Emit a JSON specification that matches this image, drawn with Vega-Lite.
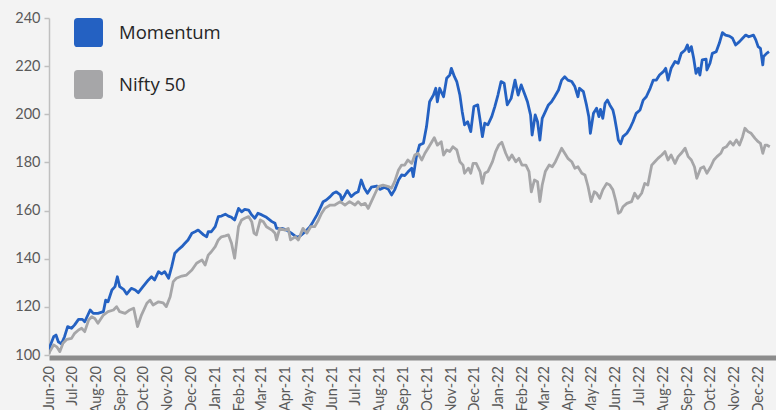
{
  "$schema": "https://vega.github.io/schema/vega-lite/v6.json",
  "width": 727,
  "height": 337,
  "autosize": "none",
  "padding": {"left": 49, "top": 18, "right": 0, "bottom": 55},
  "background": "#f3f3f3",
  "config": {"view": {"stroke": null}},
  "data": {"values": [
    {"d":"2020-06-01","s":"Momentum","v":101.5},
    {"d":"2020-06-02","s":"Momentum","v":103.4},
    {"d":"2020-06-07","s":"Momentum","v":107.6},
    {"d":"2020-06-10","s":"Momentum","v":108.3},
    {"d":"2020-06-13","s":"Momentum","v":105.5},
    {"d":"2020-06-17","s":"Momentum","v":104.6},
    {"d":"2020-06-21","s":"Momentum","v":107.6},
    {"d":"2020-06-25","s":"Momentum","v":111.8},
    {"d":"2020-06-30","s":"Momentum","v":111.1},
    {"d":"2020-07-04","s":"Momentum","v":112.5},
    {"d":"2020-07-09","s":"Momentum","v":114.8},
    {"d":"2020-07-14","s":"Momentum","v":114.8},
    {"d":"2020-07-17","s":"Momentum","v":113.8},
    {"d":"2020-07-24","s":"Momentum","v":118.7},
    {"d":"2020-07-28","s":"Momentum","v":117.3},
    {"d":"2020-08-03","s":"Momentum","v":117.3},
    {"d":"2020-08-10","s":"Momentum","v":118.0},
    {"d":"2020-08-13","s":"Momentum","v":122.8},
    {"d":"2020-08-16","s":"Momentum","v":122.1},
    {"d":"2020-08-21","s":"Momentum","v":127.0},
    {"d":"2020-08-25","s":"Momentum","v":128.4},
    {"d":"2020-08-28","s":"Momentum","v":132.5},
    {"d":"2020-08-31","s":"Momentum","v":128.4},
    {"d":"2020-09-05","s":"Momentum","v":127.3},
    {"d":"2020-09-09","s":"Momentum","v":125.3},
    {"d":"2020-09-15","s":"Momentum","v":127.7},
    {"d":"2020-09-20","s":"Momentum","v":127.0},
    {"d":"2020-09-24","s":"Momentum","v":125.9},
    {"d":"2020-09-30","s":"Momentum","v":128.4},
    {"d":"2020-10-07","s":"Momentum","v":131.2},
    {"d":"2020-10-11","s":"Momentum","v":132.5},
    {"d":"2020-10-15","s":"Momentum","v":131.2},
    {"d":"2020-10-20","s":"Momentum","v":134.6},
    {"d":"2020-10-24","s":"Momentum","v":133.7},
    {"d":"2020-10-28","s":"Momentum","v":134.6},
    {"d":"2020-11-02","s":"Momentum","v":131.9},
    {"d":"2020-11-06","s":"Momentum","v":136.7},
    {"d":"2020-11-10","s":"Momentum","v":142.3},
    {"d":"2020-11-14","s":"Momentum","v":143.6},
    {"d":"2020-11-19","s":"Momentum","v":145.0},
    {"d":"2020-11-23","s":"Momentum","v":146.4},
    {"d":"2020-11-27","s":"Momentum","v":147.8},
    {"d":"2020-12-02","s":"Momentum","v":150.6},
    {"d":"2020-12-06","s":"Momentum","v":151.2},
    {"d":"2020-12-10","s":"Momentum","v":151.9},
    {"d":"2020-12-17","s":"Momentum","v":149.9},
    {"d":"2020-12-21","s":"Momentum","v":149.1},
    {"d":"2020-12-23","s":"Momentum","v":151.2},
    {"d":"2020-12-27","s":"Momentum","v":151.2},
    {"d":"2021-01-01","s":"Momentum","v":153.3},
    {"d":"2021-01-05","s":"Momentum","v":157.5},
    {"d":"2021-01-09","s":"Momentum","v":157.7},
    {"d":"2021-01-14","s":"Momentum","v":158.5},
    {"d":"2021-01-18","s":"Momentum","v":157.7},
    {"d":"2021-01-22","s":"Momentum","v":157.2},
    {"d":"2021-01-26","s":"Momentum","v":156.1},
    {"d":"2021-01-31","s":"Momentum","v":160.9},
    {"d":"2021-02-04","s":"Momentum","v":159.5},
    {"d":"2021-02-08","s":"Momentum","v":160.5},
    {"d":"2021-02-13","s":"Momentum","v":160.2},
    {"d":"2021-02-17","s":"Momentum","v":158.2},
    {"d":"2021-02-21","s":"Momentum","v":156.8},
    {"d":"2021-02-25","s":"Momentum","v":158.9},
    {"d":"2021-03-02","s":"Momentum","v":158.2},
    {"d":"2021-03-08","s":"Momentum","v":157.2},
    {"d":"2021-03-15","s":"Momentum","v":155.4},
    {"d":"2021-03-19","s":"Momentum","v":154.7},
    {"d":"2021-03-21","s":"Momentum","v":152.6},
    {"d":"2021-03-28","s":"Momentum","v":152.6},
    {"d":"2021-04-03","s":"Momentum","v":151.9},
    {"d":"2021-04-09","s":"Momentum","v":150.6},
    {"d":"2021-04-16","s":"Momentum","v":148.9},
    {"d":"2021-04-20","s":"Momentum","v":149.4},
    {"d":"2021-04-27","s":"Momentum","v":151.2},
    {"d":"2021-05-03","s":"Momentum","v":153.3},
    {"d":"2021-05-07","s":"Momentum","v":155.4},
    {"d":"2021-05-12","s":"Momentum","v":158.2},
    {"d":"2021-05-16","s":"Momentum","v":160.9},
    {"d":"2021-05-20","s":"Momentum","v":163.7},
    {"d":"2021-05-24","s":"Momentum","v":164.4},
    {"d":"2021-05-29","s":"Momentum","v":165.8},
    {"d":"2021-06-02","s":"Momentum","v":167.2},
    {"d":"2021-06-06","s":"Momentum","v":167.8},
    {"d":"2021-06-11","s":"Momentum","v":166.5},
    {"d":"2021-06-13","s":"Momentum","v":164.4},
    {"d":"2021-06-17","s":"Momentum","v":166.5},
    {"d":"2021-06-20","s":"Momentum","v":168.3},
    {"d":"2021-06-25","s":"Momentum","v":165.8},
    {"d":"2021-06-30","s":"Momentum","v":167.2},
    {"d":"2021-07-04","s":"Momentum","v":167.8},
    {"d":"2021-07-08","s":"Momentum","v":172.7},
    {"d":"2021-07-12","s":"Momentum","v":169.3},
    {"d":"2021-07-16","s":"Momentum","v":167.2},
    {"d":"2021-07-21","s":"Momentum","v":169.7},
    {"d":"2021-07-28","s":"Momentum","v":170.2},
    {"d":"2021-08-01","s":"Momentum","v":168.8},
    {"d":"2021-08-07","s":"Momentum","v":169.7},
    {"d":"2021-08-12","s":"Momentum","v":168.8},
    {"d":"2021-08-16","s":"Momentum","v":166.5},
    {"d":"2021-08-20","s":"Momentum","v":168.6},
    {"d":"2021-08-25","s":"Momentum","v":172.7},
    {"d":"2021-08-29","s":"Momentum","v":174.8},
    {"d":"2021-09-02","s":"Momentum","v":174.5},
    {"d":"2021-09-06","s":"Momentum","v":176.0},
    {"d":"2021-09-11","s":"Momentum","v":177.6},
    {"d":"2021-09-13","s":"Momentum","v":174.1},
    {"d":"2021-09-17","s":"Momentum","v":182.4},
    {"d":"2021-09-21","s":"Momentum","v":187.2},
    {"d":"2021-09-26","s":"Momentum","v":188.0},
    {"d":"2021-09-30","s":"Momentum","v":194.8},
    {"d":"2021-10-04","s":"Momentum","v":205.2},
    {"d":"2021-10-09","s":"Momentum","v":208.0},
    {"d":"2021-10-12","s":"Momentum","v":210.8},
    {"d":"2021-10-14","s":"Momentum","v":205.2},
    {"d":"2021-10-17","s":"Momentum","v":210.8},
    {"d":"2021-10-22","s":"Momentum","v":207.3},
    {"d":"2021-10-26","s":"Momentum","v":215.0},
    {"d":"2021-10-30","s":"Momentum","v":216.3},
    {"d":"2021-11-01","s":"Momentum","v":219.1},
    {"d":"2021-11-05","s":"Momentum","v":215.6},
    {"d":"2021-11-08","s":"Momentum","v":213.6},
    {"d":"2021-11-12","s":"Momentum","v":208.0},
    {"d":"2021-11-15","s":"Momentum","v":201.1},
    {"d":"2021-11-18","s":"Momentum","v":195.6},
    {"d":"2021-11-22","s":"Momentum","v":196.9},
    {"d":"2021-11-26","s":"Momentum","v":192.8},
    {"d":"2021-11-30","s":"Momentum","v":203.2},
    {"d":"2021-12-05","s":"Momentum","v":203.9},
    {"d":"2021-12-08","s":"Momentum","v":197.6},
    {"d":"2021-12-11","s":"Momentum","v":190.7},
    {"d":"2021-12-14","s":"Momentum","v":196.3},
    {"d":"2021-12-18","s":"Momentum","v":195.6},
    {"d":"2021-12-23","s":"Momentum","v":199.0},
    {"d":"2021-12-27","s":"Momentum","v":203.2},
    {"d":"2021-12-31","s":"Momentum","v":208.0},
    {"d":"2022-01-04","s":"Momentum","v":213.6},
    {"d":"2022-01-08","s":"Momentum","v":212.9},
    {"d":"2022-01-12","s":"Momentum","v":203.9},
    {"d":"2022-01-17","s":"Momentum","v":206.6},
    {"d":"2022-01-22","s":"Momentum","v":214.2},
    {"d":"2022-01-26","s":"Momentum","v":208.0},
    {"d":"2022-01-30","s":"Momentum","v":212.2},
    {"d":"2022-02-03","s":"Momentum","v":208.7},
    {"d":"2022-02-07","s":"Momentum","v":205.2},
    {"d":"2022-02-11","s":"Momentum","v":199.7},
    {"d":"2022-02-13","s":"Momentum","v":191.4},
    {"d":"2022-02-17","s":"Momentum","v":199.7},
    {"d":"2022-02-20","s":"Momentum","v":196.9},
    {"d":"2022-02-23","s":"Momentum","v":189.3},
    {"d":"2022-02-26","s":"Momentum","v":198.3},
    {"d":"2022-03-01","s":"Momentum","v":200.4},
    {"d":"2022-03-06","s":"Momentum","v":203.9},
    {"d":"2022-03-10","s":"Momentum","v":205.2},
    {"d":"2022-03-14","s":"Momentum","v":207.3},
    {"d":"2022-03-19","s":"Momentum","v":210.1},
    {"d":"2022-03-23","s":"Momentum","v":214.2},
    {"d":"2022-03-27","s":"Momentum","v":215.6},
    {"d":"2022-03-31","s":"Momentum","v":214.2},
    {"d":"2022-04-05","s":"Momentum","v":213.6},
    {"d":"2022-04-09","s":"Momentum","v":211.5},
    {"d":"2022-04-13","s":"Momentum","v":207.3},
    {"d":"2022-04-15","s":"Momentum","v":210.8},
    {"d":"2022-04-20","s":"Momentum","v":209.4},
    {"d":"2022-04-24","s":"Momentum","v":203.9},
    {"d":"2022-04-27","s":"Momentum","v":199.0},
    {"d":"2022-04-29","s":"Momentum","v":192.1},
    {"d":"2022-05-03","s":"Momentum","v":200.4},
    {"d":"2022-05-07","s":"Momentum","v":202.5},
    {"d":"2022-05-10","s":"Momentum","v":199.0},
    {"d":"2022-05-12","s":"Momentum","v":202.0},
    {"d":"2022-05-15","s":"Momentum","v":198.3},
    {"d":"2022-05-18","s":"Momentum","v":204.6},
    {"d":"2022-05-21","s":"Momentum","v":205.9},
    {"d":"2022-05-24","s":"Momentum","v":203.9},
    {"d":"2022-05-28","s":"Momentum","v":201.8},
    {"d":"2022-05-30","s":"Momentum","v":199.0},
    {"d":"2022-06-02","s":"Momentum","v":193.5},
    {"d":"2022-06-04","s":"Momentum","v":189.3},
    {"d":"2022-06-07","s":"Momentum","v":187.7},
    {"d":"2022-06-10","s":"Momentum","v":190.7},
    {"d":"2022-06-15","s":"Momentum","v":192.1},
    {"d":"2022-06-19","s":"Momentum","v":194.2},
    {"d":"2022-06-23","s":"Momentum","v":197.0},
    {"d":"2022-06-27","s":"Momentum","v":200.4},
    {"d":"2022-07-02","s":"Momentum","v":201.8},
    {"d":"2022-07-06","s":"Momentum","v":205.9},
    {"d":"2022-07-10","s":"Momentum","v":207.3},
    {"d":"2022-07-15","s":"Momentum","v":210.8},
    {"d":"2022-07-19","s":"Momentum","v":214.2},
    {"d":"2022-07-23","s":"Momentum","v":214.2},
    {"d":"2022-07-27","s":"Momentum","v":216.3},
    {"d":"2022-08-01","s":"Momentum","v":217.7},
    {"d":"2022-08-04","s":"Momentum","v":219.1},
    {"d":"2022-08-07","s":"Momentum","v":214.2},
    {"d":"2022-08-11","s":"Momentum","v":219.1},
    {"d":"2022-08-16","s":"Momentum","v":221.9},
    {"d":"2022-08-20","s":"Momentum","v":221.2},
    {"d":"2022-08-24","s":"Momentum","v":225.3},
    {"d":"2022-08-29","s":"Momentum","v":226.7},
    {"d":"2022-09-01","s":"Momentum","v":228.8},
    {"d":"2022-09-03","s":"Momentum","v":226.0},
    {"d":"2022-09-06","s":"Momentum","v":228.1},
    {"d":"2022-09-09","s":"Momentum","v":223.3},
    {"d":"2022-09-12","s":"Momentum","v":217.0},
    {"d":"2022-09-15","s":"Momentum","v":219.1},
    {"d":"2022-09-17","s":"Momentum","v":216.3},
    {"d":"2022-09-20","s":"Momentum","v":222.6},
    {"d":"2022-09-25","s":"Momentum","v":222.9},
    {"d":"2022-09-26","s":"Momentum","v":218.4},
    {"d":"2022-09-30","s":"Momentum","v":221.2},
    {"d":"2022-10-03","s":"Momentum","v":225.3},
    {"d":"2022-10-08","s":"Momentum","v":226.0},
    {"d":"2022-10-12","s":"Momentum","v":229.5},
    {"d":"2022-10-16","s":"Momentum","v":233.9},
    {"d":"2022-10-20","s":"Momentum","v":232.9},
    {"d":"2022-10-25","s":"Momentum","v":232.5},
    {"d":"2022-10-29","s":"Momentum","v":231.6},
    {"d":"2022-11-02","s":"Momentum","v":228.8},
    {"d":"2022-11-07","s":"Momentum","v":230.2},
    {"d":"2022-11-11","s":"Momentum","v":231.6},
    {"d":"2022-11-15","s":"Momentum","v":232.9},
    {"d":"2022-11-19","s":"Momentum","v":232.2},
    {"d":"2022-11-25","s":"Momentum","v":232.9},
    {"d":"2022-11-28","s":"Momentum","v":230.9},
    {"d":"2022-12-01","s":"Momentum","v":228.1},
    {"d":"2022-12-04","s":"Momentum","v":227.4},
    {"d":"2022-12-07","s":"Momentum","v":220.5},
    {"d":"2022-12-08","s":"Momentum","v":224.0},
    {"d":"2022-12-12","s":"Momentum","v":225.3},
    {"d":"2022-12-15","s":"Momentum","v":226.0},
    {"d":"2020-06-01","s":"Nifty 50","v":100.5},
    {"d":"2020-06-02","s":"Nifty 50","v":101.4},
    {"d":"2020-06-07","s":"Nifty 50","v":104.2},
    {"d":"2020-06-11","s":"Nifty 50","v":103.4},
    {"d":"2020-06-15","s":"Nifty 50","v":101.4},
    {"d":"2020-06-19","s":"Nifty 50","v":104.9},
    {"d":"2020-06-24","s":"Nifty 50","v":106.5},
    {"d":"2020-06-30","s":"Nifty 50","v":106.9},
    {"d":"2020-07-04","s":"Nifty 50","v":109.0},
    {"d":"2020-07-09","s":"Nifty 50","v":110.4},
    {"d":"2020-07-13","s":"Nifty 50","v":111.1},
    {"d":"2020-07-17","s":"Nifty 50","v":109.7},
    {"d":"2020-07-22","s":"Nifty 50","v":114.5},
    {"d":"2020-07-26","s":"Nifty 50","v":115.9},
    {"d":"2020-07-30","s":"Nifty 50","v":115.2},
    {"d":"2020-08-03","s":"Nifty 50","v":113.2},
    {"d":"2020-08-10","s":"Nifty 50","v":116.6},
    {"d":"2020-08-16","s":"Nifty 50","v":118.0},
    {"d":"2020-08-23","s":"Nifty 50","v":118.7},
    {"d":"2020-08-27","s":"Nifty 50","v":120.1},
    {"d":"2020-08-31","s":"Nifty 50","v":118.0},
    {"d":"2020-09-07","s":"Nifty 50","v":117.3},
    {"d":"2020-09-13","s":"Nifty 50","v":118.7},
    {"d":"2020-09-18","s":"Nifty 50","v":119.4},
    {"d":"2020-09-23","s":"Nifty 50","v":111.8},
    {"d":"2020-09-28","s":"Nifty 50","v":116.6},
    {"d":"2020-10-05","s":"Nifty 50","v":121.5},
    {"d":"2020-10-09","s":"Nifty 50","v":122.8},
    {"d":"2020-10-13","s":"Nifty 50","v":120.8},
    {"d":"2020-10-20","s":"Nifty 50","v":122.1},
    {"d":"2020-10-26","s":"Nifty 50","v":121.7},
    {"d":"2020-10-30","s":"Nifty 50","v":120.1},
    {"d":"2020-11-04","s":"Nifty 50","v":124.2},
    {"d":"2020-11-08","s":"Nifty 50","v":130.5},
    {"d":"2020-11-12","s":"Nifty 50","v":131.9},
    {"d":"2020-11-19","s":"Nifty 50","v":132.8},
    {"d":"2020-11-25","s":"Nifty 50","v":133.2},
    {"d":"2020-12-02","s":"Nifty 50","v":135.3},
    {"d":"2020-12-08","s":"Nifty 50","v":138.1},
    {"d":"2020-12-15","s":"Nifty 50","v":139.5},
    {"d":"2020-12-19","s":"Nifty 50","v":137.4},
    {"d":"2020-12-23","s":"Nifty 50","v":141.5},
    {"d":"2020-12-27","s":"Nifty 50","v":142.9},
    {"d":"2021-01-01","s":"Nifty 50","v":145.0},
    {"d":"2021-01-05","s":"Nifty 50","v":147.8},
    {"d":"2021-01-09","s":"Nifty 50","v":149.1},
    {"d":"2021-01-14","s":"Nifty 50","v":149.5},
    {"d":"2021-01-18","s":"Nifty 50","v":149.9},
    {"d":"2021-01-22","s":"Nifty 50","v":146.4},
    {"d":"2021-01-26","s":"Nifty 50","v":140.2},
    {"d":"2021-01-31","s":"Nifty 50","v":153.3},
    {"d":"2021-02-04","s":"Nifty 50","v":156.1},
    {"d":"2021-02-08","s":"Nifty 50","v":156.8},
    {"d":"2021-02-13","s":"Nifty 50","v":157.5},
    {"d":"2021-02-17","s":"Nifty 50","v":155.4},
    {"d":"2021-02-20","s":"Nifty 50","v":150.6},
    {"d":"2021-02-23","s":"Nifty 50","v":149.9},
    {"d":"2021-02-28","s":"Nifty 50","v":156.1},
    {"d":"2021-03-04","s":"Nifty 50","v":155.4},
    {"d":"2021-03-08","s":"Nifty 50","v":153.3},
    {"d":"2021-03-15","s":"Nifty 50","v":151.9},
    {"d":"2021-03-19","s":"Nifty 50","v":150.6},
    {"d":"2021-03-21","s":"Nifty 50","v":147.8},
    {"d":"2021-03-25","s":"Nifty 50","v":152.6},
    {"d":"2021-04-01","s":"Nifty 50","v":151.9},
    {"d":"2021-04-05","s":"Nifty 50","v":152.6},
    {"d":"2021-04-08","s":"Nifty 50","v":147.8},
    {"d":"2021-04-14","s":"Nifty 50","v":149.1},
    {"d":"2021-04-18","s":"Nifty 50","v":147.8},
    {"d":"2021-04-24","s":"Nifty 50","v":152.6},
    {"d":"2021-04-29","s":"Nifty 50","v":150.6},
    {"d":"2021-05-04","s":"Nifty 50","v":153.3},
    {"d":"2021-05-09","s":"Nifty 50","v":153.3},
    {"d":"2021-05-14","s":"Nifty 50","v":156.1},
    {"d":"2021-05-18","s":"Nifty 50","v":158.9},
    {"d":"2021-05-22","s":"Nifty 50","v":160.9},
    {"d":"2021-05-29","s":"Nifty 50","v":162.3},
    {"d":"2021-06-04","s":"Nifty 50","v":162.3},
    {"d":"2021-06-11","s":"Nifty 50","v":163.7},
    {"d":"2021-06-17","s":"Nifty 50","v":162.3},
    {"d":"2021-06-23","s":"Nifty 50","v":163.7},
    {"d":"2021-06-30","s":"Nifty 50","v":162.3},
    {"d":"2021-07-04","s":"Nifty 50","v":163.7},
    {"d":"2021-07-08","s":"Nifty 50","v":162.3},
    {"d":"2021-07-13","s":"Nifty 50","v":163.0},
    {"d":"2021-07-17","s":"Nifty 50","v":160.9},
    {"d":"2021-07-21","s":"Nifty 50","v":163.7},
    {"d":"2021-07-26","s":"Nifty 50","v":167.2},
    {"d":"2021-07-30","s":"Nifty 50","v":170.0},
    {"d":"2021-08-05","s":"Nifty 50","v":170.6},
    {"d":"2021-08-12","s":"Nifty 50","v":170.0},
    {"d":"2021-08-16","s":"Nifty 50","v":169.3},
    {"d":"2021-08-20","s":"Nifty 50","v":172.0},
    {"d":"2021-08-25","s":"Nifty 50","v":176.9},
    {"d":"2021-08-29","s":"Nifty 50","v":178.9},
    {"d":"2021-09-02","s":"Nifty 50","v":178.9},
    {"d":"2021-09-06","s":"Nifty 50","v":181.0},
    {"d":"2021-09-11","s":"Nifty 50","v":179.6},
    {"d":"2021-09-15","s":"Nifty 50","v":183.1},
    {"d":"2021-09-19","s":"Nifty 50","v":183.8},
    {"d":"2021-09-24","s":"Nifty 50","v":181.0},
    {"d":"2021-09-28","s":"Nifty 50","v":183.8},
    {"d":"2021-10-02","s":"Nifty 50","v":185.9},
    {"d":"2021-10-07","s":"Nifty 50","v":188.6},
    {"d":"2021-10-10","s":"Nifty 50","v":190.3},
    {"d":"2021-10-14","s":"Nifty 50","v":187.2},
    {"d":"2021-10-19","s":"Nifty 50","v":188.6},
    {"d":"2021-10-22","s":"Nifty 50","v":183.1},
    {"d":"2021-10-26","s":"Nifty 50","v":185.2},
    {"d":"2021-10-30","s":"Nifty 50","v":184.5},
    {"d":"2021-11-03","s":"Nifty 50","v":186.5},
    {"d":"2021-11-08","s":"Nifty 50","v":185.2},
    {"d":"2021-11-12","s":"Nifty 50","v":180.3},
    {"d":"2021-11-16","s":"Nifty 50","v":178.9},
    {"d":"2021-11-18","s":"Nifty 50","v":175.5},
    {"d":"2021-11-23","s":"Nifty 50","v":177.6},
    {"d":"2021-11-26","s":"Nifty 50","v":175.5},
    {"d":"2021-11-29","s":"Nifty 50","v":179.6},
    {"d":"2021-12-03","s":"Nifty 50","v":179.6},
    {"d":"2021-12-08","s":"Nifty 50","v":176.2},
    {"d":"2021-12-11","s":"Nifty 50","v":171.3},
    {"d":"2021-12-14","s":"Nifty 50","v":175.5},
    {"d":"2021-12-18","s":"Nifty 50","v":176.2},
    {"d":"2021-12-24","s":"Nifty 50","v":180.3},
    {"d":"2021-12-28","s":"Nifty 50","v":184.5},
    {"d":"2022-01-01","s":"Nifty 50","v":187.2},
    {"d":"2022-01-05","s":"Nifty 50","v":188.4},
    {"d":"2022-01-10","s":"Nifty 50","v":183.8},
    {"d":"2022-01-14","s":"Nifty 50","v":181.0},
    {"d":"2022-01-18","s":"Nifty 50","v":183.1},
    {"d":"2022-01-23","s":"Nifty 50","v":180.3},
    {"d":"2022-01-27","s":"Nifty 50","v":181.7},
    {"d":"2022-01-31","s":"Nifty 50","v":178.9},
    {"d":"2022-02-05","s":"Nifty 50","v":178.9},
    {"d":"2022-02-09","s":"Nifty 50","v":176.2},
    {"d":"2022-02-12","s":"Nifty 50","v":167.8},
    {"d":"2022-02-16","s":"Nifty 50","v":172.7},
    {"d":"2022-02-20","s":"Nifty 50","v":172.0},
    {"d":"2022-02-23","s":"Nifty 50","v":163.7},
    {"d":"2022-02-26","s":"Nifty 50","v":170.6},
    {"d":"2022-03-02","s":"Nifty 50","v":176.2},
    {"d":"2022-03-07","s":"Nifty 50","v":178.9},
    {"d":"2022-03-11","s":"Nifty 50","v":178.2},
    {"d":"2022-03-15","s":"Nifty 50","v":180.3},
    {"d":"2022-03-19","s":"Nifty 50","v":183.1},
    {"d":"2022-03-23","s":"Nifty 50","v":185.9},
    {"d":"2022-03-27","s":"Nifty 50","v":183.8},
    {"d":"2022-03-31","s":"Nifty 50","v":181.7},
    {"d":"2022-04-05","s":"Nifty 50","v":180.3},
    {"d":"2022-04-09","s":"Nifty 50","v":177.6},
    {"d":"2022-04-13","s":"Nifty 50","v":178.2},
    {"d":"2022-04-18","s":"Nifty 50","v":175.5},
    {"d":"2022-04-22","s":"Nifty 50","v":174.8},
    {"d":"2022-04-26","s":"Nifty 50","v":170.0},
    {"d":"2022-04-30","s":"Nifty 50","v":163.7},
    {"d":"2022-05-04","s":"Nifty 50","v":167.8},
    {"d":"2022-05-07","s":"Nifty 50","v":167.2},
    {"d":"2022-05-11","s":"Nifty 50","v":165.1},
    {"d":"2022-05-15","s":"Nifty 50","v":168.6},
    {"d":"2022-05-20","s":"Nifty 50","v":171.3},
    {"d":"2022-05-24","s":"Nifty 50","v":170.6},
    {"d":"2022-05-28","s":"Nifty 50","v":168.6},
    {"d":"2022-06-01","s":"Nifty 50","v":163.7},
    {"d":"2022-06-04","s":"Nifty 50","v":158.9},
    {"d":"2022-06-07","s":"Nifty 50","v":159.5},
    {"d":"2022-06-10","s":"Nifty 50","v":161.6},
    {"d":"2022-06-15","s":"Nifty 50","v":163.0},
    {"d":"2022-06-21","s":"Nifty 50","v":163.7},
    {"d":"2022-06-25","s":"Nifty 50","v":167.2},
    {"d":"2022-06-29","s":"Nifty 50","v":165.1},
    {"d":"2022-07-04","s":"Nifty 50","v":167.2},
    {"d":"2022-07-08","s":"Nifty 50","v":171.3},
    {"d":"2022-07-12","s":"Nifty 50","v":170.6},
    {"d":"2022-07-17","s":"Nifty 50","v":178.9},
    {"d":"2022-07-21","s":"Nifty 50","v":180.3},
    {"d":"2022-07-25","s":"Nifty 50","v":181.7},
    {"d":"2022-07-30","s":"Nifty 50","v":183.1},
    {"d":"2022-08-03","s":"Nifty 50","v":184.5},
    {"d":"2022-08-07","s":"Nifty 50","v":181.0},
    {"d":"2022-08-11","s":"Nifty 50","v":183.1},
    {"d":"2022-08-16","s":"Nifty 50","v":179.6},
    {"d":"2022-08-20","s":"Nifty 50","v":182.4},
    {"d":"2022-08-24","s":"Nifty 50","v":183.8},
    {"d":"2022-08-29","s":"Nifty 50","v":185.9},
    {"d":"2022-09-02","s":"Nifty 50","v":182.4},
    {"d":"2022-09-06","s":"Nifty 50","v":181.0},
    {"d":"2022-09-10","s":"Nifty 50","v":178.2},
    {"d":"2022-09-13","s":"Nifty 50","v":173.4},
    {"d":"2022-09-18","s":"Nifty 50","v":177.6},
    {"d":"2022-09-22","s":"Nifty 50","v":178.2},
    {"d":"2022-09-26","s":"Nifty 50","v":175.5},
    {"d":"2022-10-01","s":"Nifty 50","v":178.2},
    {"d":"2022-10-05","s":"Nifty 50","v":181.0},
    {"d":"2022-10-09","s":"Nifty 50","v":182.4},
    {"d":"2022-10-14","s":"Nifty 50","v":183.8},
    {"d":"2022-10-17","s":"Nifty 50","v":185.9},
    {"d":"2022-10-21","s":"Nifty 50","v":186.5},
    {"d":"2022-10-26","s":"Nifty 50","v":188.6},
    {"d":"2022-10-30","s":"Nifty 50","v":187.2},
    {"d":"2022-11-03","s":"Nifty 50","v":189.3},
    {"d":"2022-11-07","s":"Nifty 50","v":187.2},
    {"d":"2022-11-11","s":"Nifty 50","v":190.7},
    {"d":"2022-11-14","s":"Nifty 50","v":194.2},
    {"d":"2022-11-18","s":"Nifty 50","v":192.8},
    {"d":"2022-11-22","s":"Nifty 50","v":192.1},
    {"d":"2022-11-27","s":"Nifty 50","v":190.0},
    {"d":"2022-12-01","s":"Nifty 50","v":188.6},
    {"d":"2022-12-04","s":"Nifty 50","v":187.9},
    {"d":"2022-12-07","s":"Nifty 50","v":183.8},
    {"d":"2022-12-10","s":"Nifty 50","v":187.2},
    {"d":"2022-12-12","s":"Nifty 50","v":187.2},
    {"d":"2022-12-16","s":"Nifty 50","v":186.5}
  ]},
  "mark": {"type": "line", "strokeWidth": 2.8, "strokeJoin": "round", "clip": true},
  "encoding": {
    "x": {
      "field": "d", "type": "temporal", "title": null,
      "scale": {"type": "utc", "domain": ["2020-06-01", "2022-12-24"]},
      "axis": {
        "labelExpr": "utcFormat(datum.value, '%b-%y')",
        "tickCount": {"interval": "month", "step": 1},
        "labelAngle": -90, "labelAlign": "right", "labelBaseline": "middle",
        "labelFont": "Lato", "labelFontSize": 14.5, "labelColor": "#595959",
        "labelPadding": 8, "labelOverlap": false, "labelFlush": false, "labelBound": false,
        "ticks": false, "grid": false,
        "domainColor": "#8c8c8c", "domainWidth": 5, "offset": 2.5
      }
    },
    "y": {
      "field": "v", "type": "quantitative", "title": null,
      "scale": {"domain": [100, 240], "nice": false, "zero": false},
      "axis": {
        "values": [100, 120, 140, 160, 180, 200, 220, 240],
        "grid": false, "domainColor": "#bfbfbf", "domainWidth": 1.5,
        "tickColor": "#bfbfbf", "tickSize": 5, "tickWidth": 1.5,
        "labelFont": "Lato", "labelFontSize": 14.5, "labelColor": "#595959",
        "labelPadding": 4
      }
    },
    "color": {
      "field": "s", "type": "nominal",
      "scale": {"domain": ["Momentum", "Nifty 50"], "range": ["#2461c2", "#a6a6a8"]},
      "legend": {
        "title": null, "orient": "none", "legendX": 25, "legendY": 0,
        "padding": 0,
        "symbolType": "M -0.75 -1 L 0.75 -1 Q 1 -1 1 -0.75 L 1 0.75 Q 1 1 0.75 1 L -0.75 1 Q -1 1 -1 0.75 L -1 -0.75 Q -1 -1 -0.75 -1 Z",
        "symbolSize": 841, "symbolStrokeWidth": 0, "symbolOpacity": 1,
        "labelFont": "Open Sans", "labelFontSize": 18.5, "labelColor": "#262626",
        "labelOffset": 16, "rowPadding": 23,
        "encode": {"symbols": {"update": {"fill": {"scale": "color", "field": "value"}, "fillOpacity": {"value": 1}, "strokeWidth": {"value": 0}}}}
      }
    }
  }
}
